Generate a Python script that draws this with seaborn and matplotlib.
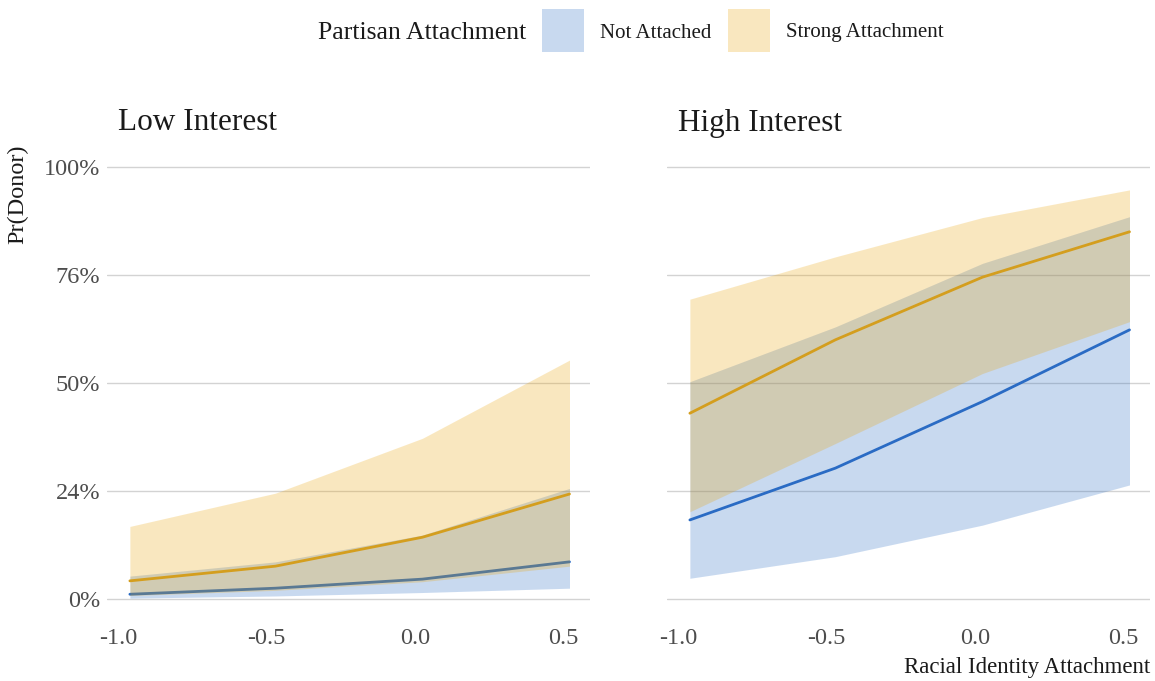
import matplotlib
matplotlib.use("Agg")
import matplotlib.pyplot as plt
from matplotlib.patches import Rectangle
import pandas as pd
import seaborn as sns

# Predicted probability of being a donor, by racial identity attachment
racial_identity = [-0.96, -0.47, 0.025, 0.52]
panels = ["Low Interest", "High Interest"]
groups = ["Not Attached", "Strong Attachment"]

low_not_fit = [0.011, 0.025, 0.046, 0.086]
low_not_lo = [0.002, 0.007, 0.015, 0.025]
low_not_hi = [0.053, 0.086, 0.148, 0.256]

low_strong_fit = [0.042, 0.076, 0.143, 0.243]
low_strong_lo = [0.008, 0.020, 0.040, 0.076]
low_strong_hi = [0.168, 0.245, 0.372, 0.553]

high_not_fit = [0.183, 0.303, 0.457, 0.623]
high_not_lo = [0.048, 0.098, 0.171, 0.264]
high_not_hi = [0.503, 0.630, 0.777, 0.885]

high_strong_fit = [0.430, 0.600, 0.745, 0.850]
high_strong_lo = [0.202, 0.360, 0.522, 0.642]
high_strong_hi = [0.694, 0.792, 0.883, 0.947]

y_breaks = [0.0, 0.25, 0.5, 0.75, 1.0]
y_labels = ["0%", "24%", "50%", "76%", "100%"]
x_breaks = [-1.0, -0.5, 0.0, 0.5]
x_labels = ["-1.0", "-0.5", "0.0", "0.5"]

colors = {"Not Attached": "#2A6BC4", "Strong Attachment": "#D49E1E"}
fills = {"Not Attached": "#276BC3", "Strong Attachment": "#EBA303"}

series = {
    ("Low Interest", "Not Attached"): (low_not_fit, low_not_lo, low_not_hi),
    ("Low Interest", "Strong Attachment"): (low_strong_fit, low_strong_lo, low_strong_hi),
    ("High Interest", "Not Attached"): (high_not_fit, high_not_lo, high_not_hi),
    ("High Interest", "Strong Attachment"): (high_strong_fit, high_strong_lo, high_strong_hi),
}

rows = []
for (panel, group), (fit, lo, hi) in series.items():
    for x, f, l, h in zip(racial_identity, fit, lo, hi):
        rows.append({"panel": panel, "group": group, "x": x, "fit": f, "lo": l, "hi": h})
df = pd.DataFrame(rows)

sns.set_theme(style="white")
plt.rcParams["font.family"] = ["Liberation Serif", "DejaVu Serif"]

W, H = 1155, 681
fig = plt.figure(figsize=(W / 100, H / 100), dpi=100)


def fx(px):
    return px / W


def fy(py):
    return 1 - py / H


ylim = (-0.05, 1.02)
xlim = (-1.037, 0.589)
ax_bottom_px = 599 + 0.05 * 432
ax_top_px = 167 - 0.02 * 432
panel_left_px = [107, 667]
panel_w_px = 483

tick_color = "#4d4d4d"
text_color = "#1a1a1a"

for i, panel in enumerate(panels):
    ax = fig.add_axes([fx(panel_left_px[i]), fy(ax_bottom_px),
                       panel_w_px / W, (ax_bottom_px - ax_top_px) / H])
    z = 2
    for group in groups:
        sub = df[(df.panel == panel) & (df.group == group)]
        ax.fill_between(sub.x, sub.lo, sub.hi, color=fills[group], alpha=0.25,
                        linewidth=0, zorder=z)
        sns.lineplot(data=sub, x="x", y="fit", color=colors[group], linewidth=2.0,
                     ax=ax, legend=False, sort=False, zorder=z + 1)
        z += 2
    ax.set_xlim(*xlim)
    ax.set_ylim(*ylim)
    ax.set_xticks(x_breaks)
    ax.set_xticklabels(x_labels)
    ax.set_yticks(y_breaks)
    if i == 0:
        ax.set_yticklabels(y_labels)
    else:
        ax.set_yticklabels([])
    ax.tick_params(axis="both", length=0, labelsize=17.5, colors=tick_color, pad=5)
    ax.yaxis.grid(True, color="#d3d3d3", linewidth=1.0)
    ax.xaxis.grid(False)
    ax.set_axisbelow(True)
    for s in ax.spines.values():
        s.set_visible(False)
    ax.set_xlabel("")
    ax.set_ylabel("")
    ax.patch.set_alpha(0)
    fig.text(fx([118, 678][i]), fy(123), panel, fontsize=22.5, color=text_color,
             ha="left", va="center")

# axis titles
fig.text(fx(18), fy(145), "Pr(Donor)", rotation=90, ha="center", va="top",
         fontsize=17.5, color=text_color)
fig.text(fx(1150), fy(668), "Racial Identity Attachment", ha="right", va="center",
         fontsize=16.5, color=text_color)

# legend
fig.text(fx(526), fy(33), "Partisan Attachment", ha="right", va="center",
         fontsize=18.5, color=text_color)
key_x = {"Not Attached": 542, "Strong Attachment": 728}
for group in groups:
    fig.add_artist(Rectangle((fx(key_x[group]), fy(52)), 42 / W, 43 / H,
                             transform=fig.transFigure, facecolor=fills[group],
                             alpha=0.25, edgecolor="none"))
    fig.text(fx(key_x[group] + 58), fy(33), group, ha="left", va="center",
             fontsize=15, color=text_color)

fig.savefig("out.png", dpi=100)
